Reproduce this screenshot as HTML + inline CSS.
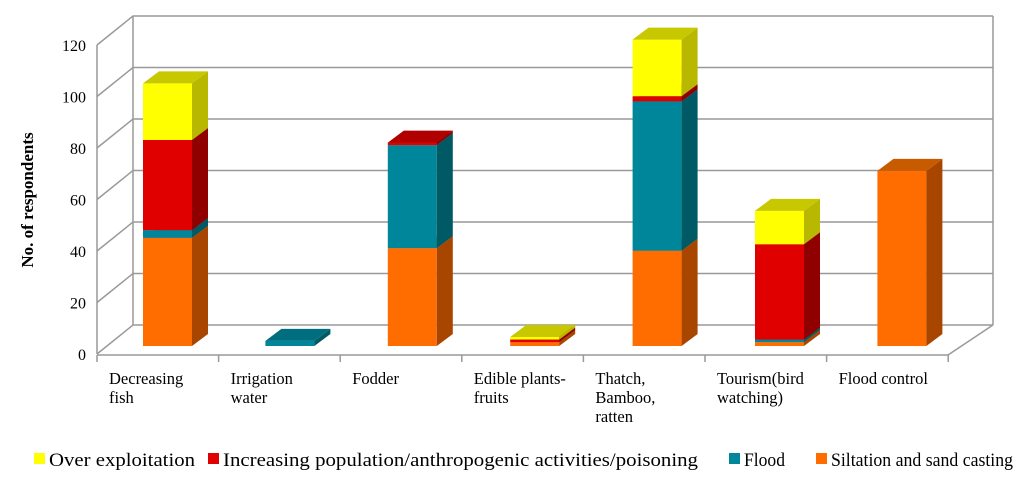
<!DOCTYPE html>
<html><head><meta charset="utf-8"><style>
body{margin:0;background:#fff;width:1024px;height:489px;overflow:hidden}
text{font-family:"Liberation Serif",serif;fill:#000}
</style></head><body>
<svg id="chart" width="1024" height="489" xmlns="http://www.w3.org/2000/svg"></svg>
<script>
const categories=[["Decreasing","fish"],["Irrigation","water"],["Fodder"],["Edible plants-","fruits"],["Thatch,","Bamboo,","ratten"],["Tourism(bird","watching)"],["Flood control"]];
const siltation=[42,0,38,1.5,37,1.5,68];
const flood=[3,2,40,0,58,1,0];
const population=[35,0,1,1,2,37,0];
const overExploitation=[22,0,0,1,22,13,0];
const yTicks=[0,20,40,60,80,100,120];
const seriesNames=["Over exploitation","Increasing population/anthropogenic activities/poisoning","Flood","Siltation and sand casting"];
const svg=document.getElementById('chart');
const NS="http://www.w3.org/2000/svg";
function el(t,a,p){const e=document.createElementNS(NS,t);for(const k in a)e.setAttribute(k,a[k]);(p||svg).appendChild(e);return e;}
const K=2.575;
function yFront(v){return 354-v*K;}
function yBack(v){return 325-v*K;}
yTicks.forEach(v=>{
  const g=el('g',{});
  
  
  el('polyline',{points:`97,${yFront(v)} 133,${yBack(v)} 993,${yBack(v)}`,fill:'none',stroke:'#999','stroke-width':1.5},g);
  const t=el('text',{x:86,y:yFront(v)+6,'text-anchor':'end','font-size':16},g);
  t.textContent=v;
  
  
});
el('line',{x1:133,y1:yBack(0),x2:133,y2:yBack(120),stroke:'#999','stroke-width':1.5});
el('line',{x1:993,y1:yBack(0),x2:993,y2:yBack(120),stroke:'#999','stroke-width':1.5});
el('line',{x1:97,y1:354,x2:97,y2:yFront(120),stroke:'#999','stroke-width':1.5});
el('polyline',{points:`97,355 948,355 993,325`,fill:'none',stroke:'#999','stroke-width':1.5});
for(let i=0;i<=7;i++){const x=97+i*121.6;el('line',{x1:x,y1:355,x2:x,y2:362,stroke:'#999','stroke-width':1.5});}
const yt=el('text',{x:0,y:0,'font-size':17,'font-weight':'bold',transform:'translate(33,200) rotate(-90)','text-anchor':'middle'});
yt.textContent='No. of respondents';


const colors=[["#FF6D00","#A84600","#C85A00"],["#00869A","#005A66","#006E7E"],["#E00000","#900000","#B00000"],["#FFFF00","#B8B800","#C8C800"]];
const series=[siltation,flood,population,overExploitation];
const names=['siltation','flood','population','over-exploitation'];
const W=49,DX=16,DY=-12,base=346;
categories.forEach((c,i)=>{
  const x=143+i*122.4;
  let cum=0;
  series.forEach((s,j)=>{
    const v=s[i];if(v<=0)return;
    const y0=base-cum*K,y1=base-(cum+v)*K;cum+=v;
    const g=el('g',{});
    
    
    el('rect',{x:x,y:y1,width:W,height:y0-y1,fill:colors[j][0]},g);
    el('polygon',{points:`${x+W},${y0} ${x+W+DX},${y0+DY} ${x+W+DX},${y1+DY} ${x+W},${y1}`,fill:colors[j][1]},g);
    el('polygon',{points:`${x},${y1} ${x+DX},${y1+DY} ${x+W+DX},${y1+DY} ${x+W},${y1}`,fill:colors[j][2]},g);
  });
  c.forEach((line,k)=>{
    const t=el('text',{x:97+i*121.6+12,y:384+k*19,'font-size':16.5});
    t.textContent=line;
    
    
  });
});
const lc=["#FFFF00","#E00000","#00869A","#FF6D00"];
const lx=[34,208,729,816];
const lw=[146,475,41,182];
seriesNames.forEach((n,i)=>{
  const g=el('g',{});
  
  
  el('rect',{x:lx[i],y:453,width:11,height:11,fill:lc[i]},g);
  const t=el('text',{x:lx[i]+15,y:466,'font-size':19,textLength:lw[i],lengthAdjust:'spacingAndGlyphs'},g);
  t.textContent=n;
});
</script>
</body></html>
